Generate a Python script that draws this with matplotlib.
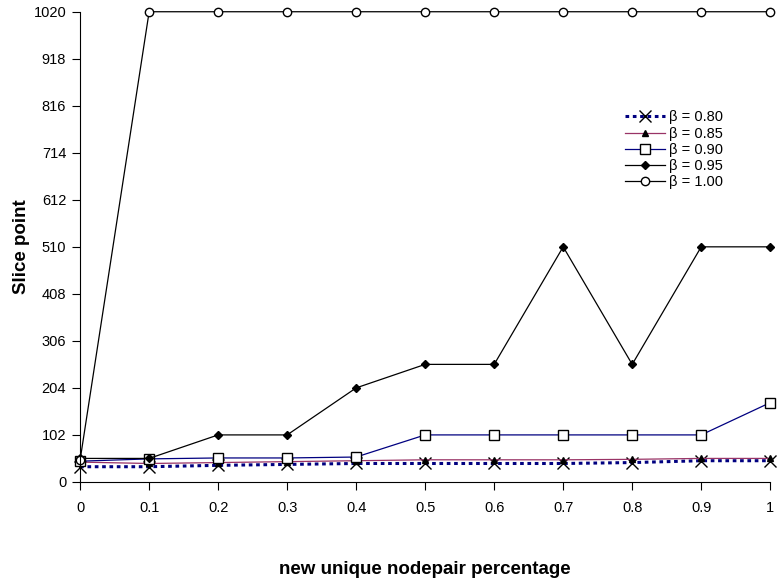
import matplotlib
matplotlib.use("Agg")
import matplotlib.pyplot as plt

plt.rcParams['font.family'] = ['Liberation Sans', 'DejaVu Sans']

x_vals = [0, 0.1, 0.2, 0.3, 0.4, 0.5, 0.6, 0.7, 0.8, 0.9, 1.0]
x_labels = ["0", "0.1", "0.2", "0.3", "0.4", "0.5", "0.6", "0.7", "0.8", "0.9", "1"]
y_ticks = [0, 102, 204, 306, 408, 510, 612, 714, 816, 918, 1020]

beta_080 = [33, 33, 36, 38, 40, 40, 40, 40, 42, 46, 46]
beta_085 = [43, 40, 42, 44, 46, 48, 48, 48, 49, 51, 51]
beta_090 = [45, 50, 52, 52, 54, 102, 102, 102, 102, 102, 172]
beta_095 = [51, 51, 102, 102, 204, 255, 255, 510, 255, 510, 510]
beta_100 = [48, 1020, 1020, 1020, 1020, 1020, 1020, 1020, 1020, 1020, 1020]

fig = plt.figure(figsize=(7.78, 5.87), dpi=100)
ax = fig.add_axes([0.103, 0.179, 0.887, 0.801])

ax.plot(x_vals, beta_080, color='#000080', linestyle=(0, (1.2, 1.2)), linewidth=2.2,
        marker='x', markersize=9, markeredgecolor='black', markeredgewidth=1.0, label='β = 0.80')
ax.plot(x_vals, beta_085, color='#993366', linewidth=0.9,
        marker='^', markersize=5, markerfacecolor='black', markeredgecolor='black', label='β = 0.85')
ax.plot(x_vals, beta_090, color='#000080', linewidth=0.9,
        marker='s', markersize=7, markerfacecolor='white', markeredgecolor='black',
        markeredgewidth=1.0, label='β = 0.90')
ax.plot(x_vals, beta_095, color='black', linewidth=0.9,
        marker='D', markersize=4, markerfacecolor='black', markeredgecolor='black', label='β = 0.95')
ax.plot(x_vals, beta_100, color='black', linewidth=0.9,
        marker='o', markersize=6, markerfacecolor='white', markeredgecolor='black',
        markeredgewidth=1.0, label='β = 1.00')

ax.set_xlim(0, 1)
ax.set_ylim(0, 1020)
ax.set_xticks(x_vals)
ax.set_xticklabels(x_labels)
ax.set_yticks(y_ticks)
ax.set_yticklabels([str(v) for v in y_ticks])
ax.tick_params(axis='both', labelsize=10.5, direction='out', length=6, width=0.8)
ax.tick_params(axis='x', pad=8)
ax.tick_params(axis='y', pad=4)

for side in ('top', 'right'):
    ax.spines[side].set_visible(False)
for side in ('left', 'bottom'):
    ax.spines[side].set_linewidth(0.8)
for line in ax.get_lines():
    line.set_clip_on(False)

ax.set_xlabel('new unique nodepair percentage', fontsize=13.5, fontweight='bold', labelpad=33)
ax.set_ylabel('Slice point', fontsize=13.5, fontweight='bold')
ax.yaxis.set_label_coords(-0.072, 0.5)

ax.legend(loc='upper left', bbox_to_anchor=(0.79, 0.79), frameon=False, fontsize=10.5,
          handlelength=2.7, labelspacing=0.15, handletextpad=0.3, borderaxespad=0,
          borderpad=0)

fig.savefig('out.png', dpi=100)
